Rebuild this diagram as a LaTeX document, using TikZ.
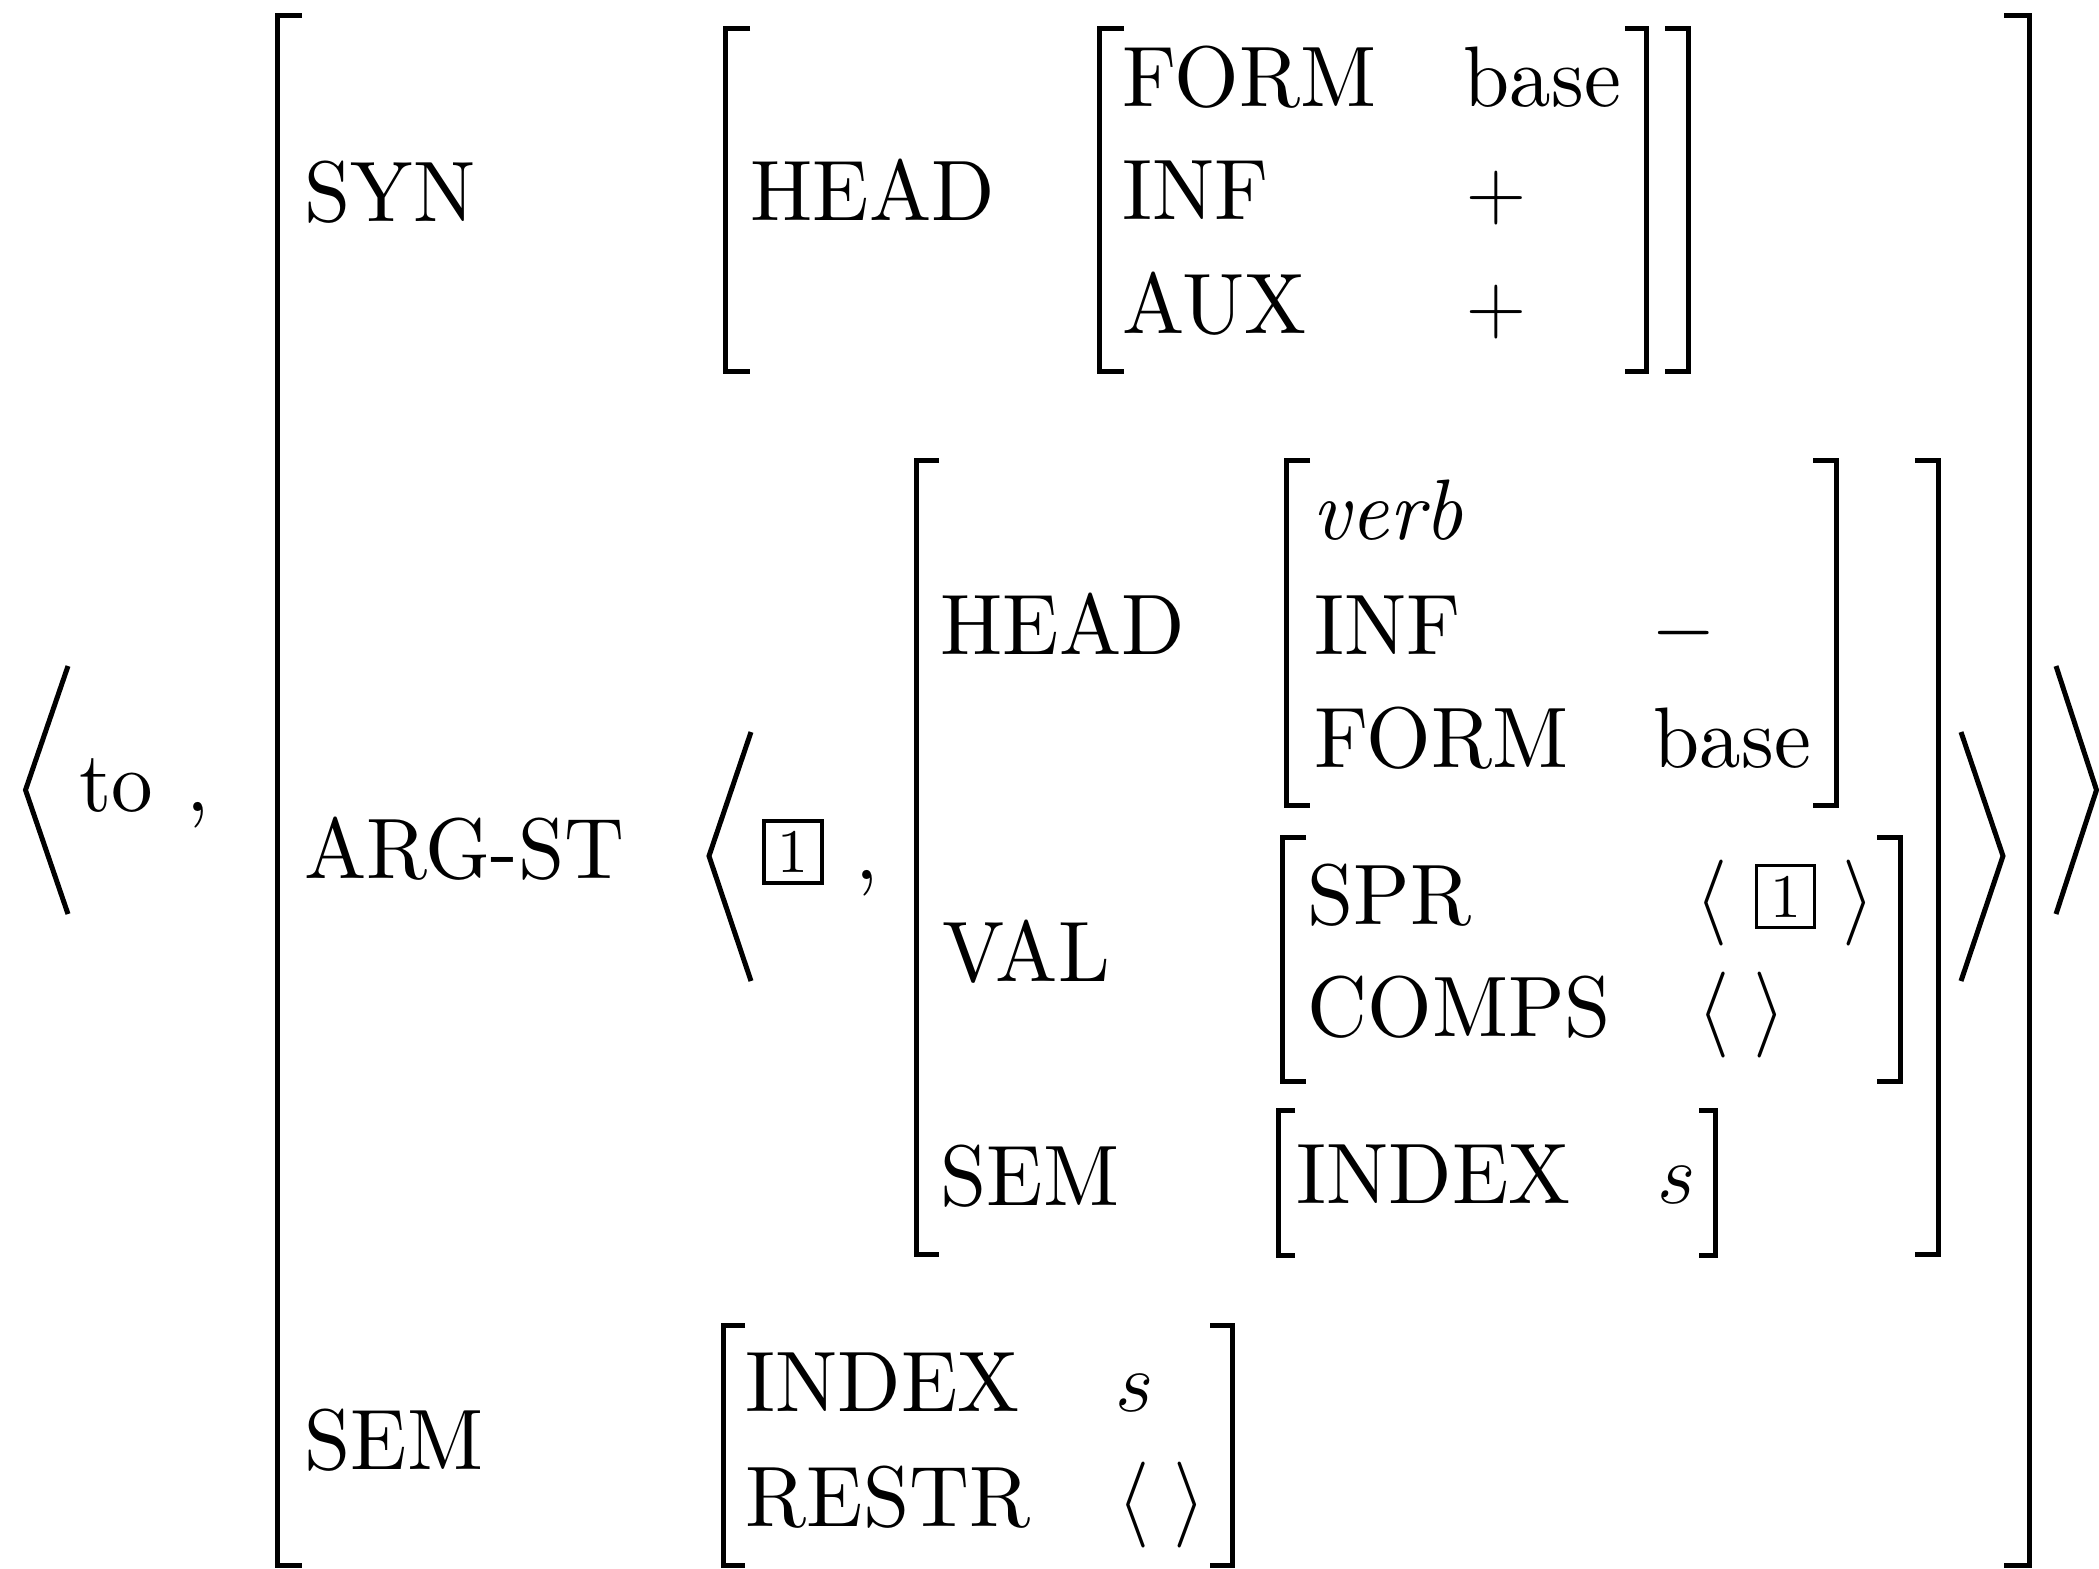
\RequirePackage{fix-cm}
\documentclass[tikz,border=0pt]{standalone}
\usepackage{fontspec}
\setmainfont{lmroman10}[Extension=.otf, UprightFont=*-regular, ItalicFont=*-italic, BoldFont=*-bold]
\tikzset{
  lbl/.style={anchor=base west, inner sep=0pt, font=\fontsize{23.6}{28}\selectfont, yscale=1.035},
  sym/.style={anchor=base, inner sep=0pt, font=\fontsize{23.6}{28}\selectfont, yscale=1.035},
  brk/.style={line width=0.05cm, line join=miter},
  ang/.style={line width=0.05cm, line join=miter},
  tagbox/.style={draw, line width=0.035cm, minimum width=0.58cm, minimum height=0.62cm, inner sep=0pt, font=\fontsize{17.6}{20}\selectfont},
}
\begin{document}
\begin{tikzpicture}[x=0.01cm, y=-0.01cm]
\useasboundingbox (0,0) rectangle (2099,1568);
% outer angles
\draw[ang] (68,666) -- (25.5,790) -- (68,914);
\draw[ang] (2056,666) -- (2096.5,790) -- (2056,914);
\node[lbl] (to) at (79,811) {to};
\node[lbl] (c1) at (186,811) {,};
% big brackets
\draw[brk] (302,15) -- (277,15) -- (277,1565) -- (302,1565);
\draw[brk] (2004,15) -- (2029,15) -- (2029,1565) -- (2004,1565);
% SYN
\node[lbl] (syn) at (304,221) {SYN};
\draw[brk] (750,28) -- (725,28) -- (725,371) -- (750,371);
\draw[brk] (1665,28) -- (1688,28) -- (1688,371) -- (1665,371);
\node[lbl] (head1) at (750,220) {HEAD};
\draw[brk] (1124,28) -- (1099,28) -- (1099,371) -- (1124,371);
\draw[brk] (1625,28) -- (1646,28) -- (1646,371) -- (1625,371);
\node[lbl] (form1) at (1122,106) {FORM};
\node[lbl] (base1) at (1463,106) {base};
\node[lbl] (inf1) at (1122,219) {INF};
\node[sym] (plus1) at (1496,219) {$+$};
\node[lbl] (aux1) at (1122,333) {AUX};
\node[sym] (plus2) at (1496,333) {$+$};
% ARG-ST
\node[lbl] (argst) at (304,878) {ARG-ST};
\draw[ang] (751,732) -- (709,856) -- (751,981);
\draw[ang] (1961,732) -- (2003,856) -- (1961,981);
\node[tagbox] (box1) at (793,852) {1};
\node[lbl] (c2) at (855,879) {,};
\draw[brk] (939,460) -- (916,460) -- (916,1254) -- (939,1254);
\draw[brk] (1915,460) -- (1938,460) -- (1938,1254) -- (1915,1254);
\node[lbl] (head2) at (940,654) {HEAD};
\draw[brk] (1310,460) -- (1286,460) -- (1286,805) -- (1310,805);
\draw[brk] (1813,460) -- (1836,460) -- (1836,805) -- (1813,805);
\node[lbl] (verb) at (1312,539) {\itshape verb};
\node[lbl] (inf2) at (1314,654) {INF};
\node[sym] (minus) at (1684,654) {$-$};
\node[lbl] (form2) at (1314,767) {FORM};
\node[lbl] (base2) at (1653,767) {base};
\node[lbl] (val) at (942,981) {VAL};
\draw[brk] (1306,837) -- (1282,837) -- (1282,1081) -- (1306,1081);
\draw[brk] (1877,837) -- (1900,837) -- (1900,1081) -- (1877,1081);
\node[lbl] (spr) at (1307,924) {SPR};
\node[sym] (la1) at (1712,924) {$\langle$};
\node[tagbox] (box2) at (1785.5,896.5) {1};
\node[sym] (ra1) at (1858.5,924) {$\rangle$};
\node[lbl] (comps) at (1307,1036) {COMPS};
\node[sym] (la2) at (1714,1036) {$\langle$};
\node[sym] (ra2) at (1770,1036) {$\rangle$};
\node[lbl] (sem2) at (940,1205) {SEM};
\draw[brk] (1295,1110) -- (1278,1110) -- (1278,1255) -- (1295,1255);
\draw[brk] (1699,1110) -- (1715,1110) -- (1715,1255) -- (1699,1255);
\node[lbl] (index2) at (1296,1203) {INDEX};
\node[sym] (s2) at (1677,1203) {$s$};
% SEM
\node[lbl] (sem) at (304,1469) {SEM};
\draw[brk] (745,1325) -- (723,1325) -- (723,1565) -- (745,1565);
\draw[brk] (1210,1325) -- (1232,1325) -- (1232,1565) -- (1210,1565);
\node[lbl] (index) at (745,1411) {INDEX};
\node[sym] (s1) at (1134.5,1411) {$s$};
\node[lbl] (restr) at (745,1526) {RESTR};
\node[sym] (la3) at (1134,1526) {$\langle$};
\node[sym] (ra3) at (1190,1526) {$\rangle$};
\end{tikzpicture}
\end{document}
